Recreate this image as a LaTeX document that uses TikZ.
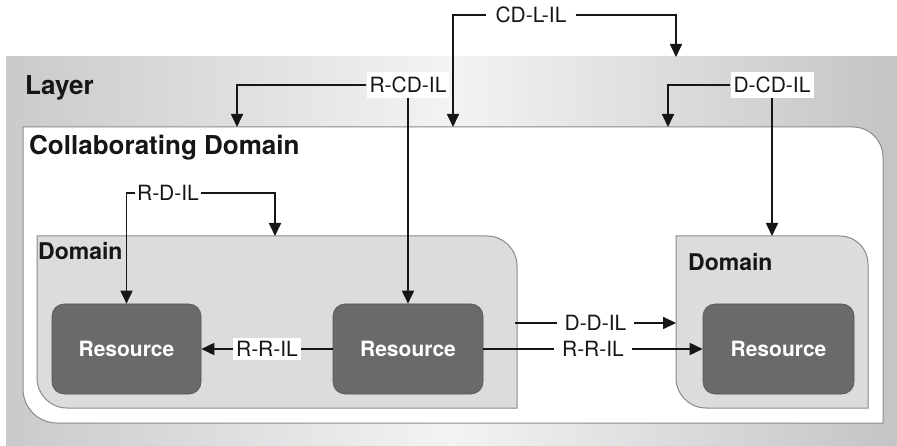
\documentclass[tikz,border=0pt]{standalone}
\usepackage{fontspec}
\setmainfont{TeX Gyre Heros}
\usetikzlibrary{arrows.meta}
\definecolor{layerside}{HTML}{C9CACC}
\definecolor{layermid}{HTML}{F3F3F3}
\definecolor{domfill}{HTML}{DBDCDE}
\definecolor{resfill}{HTML}{6A6A6C}
\definecolor{edgegray}{HTML}{8A8A8A}
\definecolor{ink}{HTML}{161616}
\begin{document}
\begin{tikzpicture}[x=1pt,y=-1pt,
  conn/.style={line width=1.7pt, draw=ink, -{Triangle[length=13pt,width=12pt]}},
  lbl/.style={fill=white, inner xsep=3pt, inner ysep=5pt, text=ink,
    font=\fontsize{21}{25}\selectfont, text height=15.1pt, text depth=0pt},
  title/.style={anchor=base west, inner sep=0pt, text=ink, font=\bfseries},
  res/.style={fill=resfill, draw=resfill!80!black, line width=0.6pt, rounded corners=12pt,
    text=white, font=\fontsize{21}{25}\selectfont\bfseries,
    minimum height=90pt},
  shell/.style={draw=edgegray, line width=1pt},
  inv/.style={inner sep=0pt, draw=none}]
\useasboundingbox (0,0) rectangle (897,446);

% Layer
\shade[left color=layerside, right color=layerside!97!black, middle color=layermid]
  (6,57) rectangle (897,446);
\node[inv, minimum width=891pt, minimum height=389pt] (layer) at (451.5,251.5) {};
\node[title, font=\fontsize{26}{30}\selectfont\bfseries] (layerT) at (25,95) {Layer};

% Collaborating domain
\filldraw[shell, fill=white]
  (23,127) -- (853,127) .. controls (869.57,127) and (883,140.43) .. (883,157)
  -- (883,423) -- (57,423) .. controls (38.22,423) and (23,407.78) .. (23,389) -- cycle;
\node[inv, minimum width=860pt, minimum height=296pt] (collab) at (453,275) {};
\node[title, font=\fontsize{26}{30}\selectfont\bfseries] (collabT) at (29,155) {Collaborating Domain};

% Domains
\filldraw[shell, fill=domfill]
  (37,236) -- (487,236) .. controls (503.57,236) and (517,249.43) .. (517,266)
  -- (517,408) -- (67,408) .. controls (50.43,408) and (37,394.57) .. (37,378) -- cycle;
\node[inv, minimum width=480pt, minimum height=172pt] (dom1) at (277,322) {};
\node[title, font=\fontsize{23}{27}\selectfont\bfseries] (dom1T) at (38,260) {Domain};

\filldraw[shell, fill=domfill]
  (676,236) -- (840,236) .. controls (855.46,236) and (868,248.54) .. (868,264)
  -- (868,408) -- (706,408) .. controls (689.43,408) and (676,394.57) .. (676,378) -- cycle;
\node[inv, minimum width=192pt, minimum height=172pt] (dom2) at (772,322) {};
\node[title, font=\fontsize{23}{27}\selectfont\bfseries] (dom2T) at (688,271) {Domain};

% Resources
\node[res, minimum width=149pt] (r1) at (126.5,349) {Resource};
\node[res, minimum width=150pt] (r2) at (408,349) {Resource};
\node[res, minimum width=151pt] (r3) at (778.5,349) {Resource};

% Connector end points
\coordinate (cdTopA) at (237,127);
\coordinate (cdTopB) at (453,127);
\coordinate (cdTopC) at (668,127);
\coordinate (layerTop) at (676,57);
\coordinate (d1Top) at (275,236);
\coordinate (d2Top) at (772,236);
\coordinate (d1East) at (515,323);
\coordinate (d2West) at (676,323);

% Labels
\node[lbl, inner xsep=9pt, fill=none] (lCDL) at (531,15) {CD-L-IL};
\node[lbl] (lRCD) at (408,85) {R-CD-IL};
\node[lbl] (lDCD) at (772,85) {D-CD-IL};
\node[lbl, inner xsep=2pt] (lRD) at (168,193) {R-D-IL};

% Connectors
\draw[conn] (lCDL.west) -| (cdTopB);
\draw[conn] (lCDL.east) -| (layerTop);
\draw[conn] (lRCD.west) -| (cdTopA);
\draw[conn] (lRCD.south) -- (r2.north);
\draw[conn] (lDCD.west) -| (cdTopC);
\draw[conn] (lDCD.south) -- (d2Top);
\draw[conn] (lRD.west) -| (r1.north);
\draw[conn] (lRD.east) -| (d1Top);
\draw[conn] (r2.west) -- node[lbl, inner ysep=3pt] (lRR1) {R-R-IL} (r1.east);
\draw[conn] (d1East) -- node[lbl, inner xsep=8pt, inner ysep=3pt] (lDD) {D-D-IL} (d2West);
\draw[conn] (r2.east) -- node[lbl, inner xsep=8pt, inner ysep=3pt] (lRR2) {R-R-IL} (r3.west);
\end{tikzpicture}
\end{document}
